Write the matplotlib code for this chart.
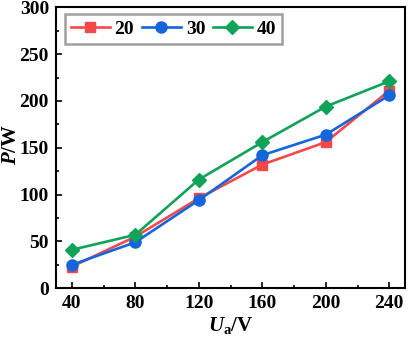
import matplotlib
matplotlib.use("Agg")
import matplotlib.pyplot as plt
from matplotlib.ticker import MultipleLocator

plt.rcParams['font.family'] = ['Liberation Serif', 'DejaVu Serif']
plt.rcParams['font.weight'] = 'bold'
plt.rcParams['mathtext.fontset'] = 'custom'
plt.rcParams['mathtext.rm'] = 'Liberation Serif:bold'
plt.rcParams['mathtext.it'] = 'Liberation Serif:bold:italic'
plt.rcParams['mathtext.bf'] = 'Liberation Serif:bold'

voltage = [40, 80, 120, 160, 200, 240]
p20 = [23, 55, 96, 132, 156, 211]
p30 = [25, 49, 94, 142, 164, 206]
p40 = [41, 57, 116, 156, 194, 221]
labels = ['20', '30', '40']

fig = plt.figure(figsize=(4.08, 3.46), dpi=100)
ax = fig.add_axes([0.137, 0.167, 0.856, 0.812])

ax.plot(voltage, p20, color='#F5484B', marker='s', ms=7, lw=1.9, label=labels[0])
ax.plot(voltage, p30, color='#1565DC', marker='o', ms=8, lw=1.9, label=labels[1])
ax.plot(voltage, p40, color='#0FA35A', marker='D', ms=7, lw=1.9, label=labels[2])

ax.set_xlim(30, 250)
ax.set_ylim(0, 300)
ax.xaxis.set_major_locator(MultipleLocator(40))
ax.xaxis.set_minor_locator(MultipleLocator(20))
ax.yaxis.set_major_locator(MultipleLocator(50))
ax.yaxis.set_minor_locator(MultipleLocator(25))
ax.tick_params(which='both', direction='in', width=1.2, labelsize=14)
ax.tick_params(which='major', length=4, pad=5)
ax.tick_params(which='minor', length=2)
for s in ax.spines.values():
    s.set_linewidth(1.5)

ax.set_xlabel(r'$\mathit{U}_{\mathrm{a}}$/V', fontsize=15, fontweight='bold')
ax.xaxis.set_label_coords(0.5, -0.095)
ax.set_ylabel(r'$\mathit{P}$/W', fontsize=15, fontweight='bold')
ax.yaxis.set_label_coords(-0.1, 0.51)

leg = ax.legend(loc='upper left', ncol=3, fontsize=14, frameon=True, fancybox=False,
                edgecolor='#888888', handlelength=2.0, columnspacing=0.4, handletextpad=0.25,
                borderpad=0.3, borderaxespad=0, bbox_to_anchor=(0.026, 0.975))
leg.get_frame().set_linewidth(1.8)

fig.savefig('out.png', dpi=100)
